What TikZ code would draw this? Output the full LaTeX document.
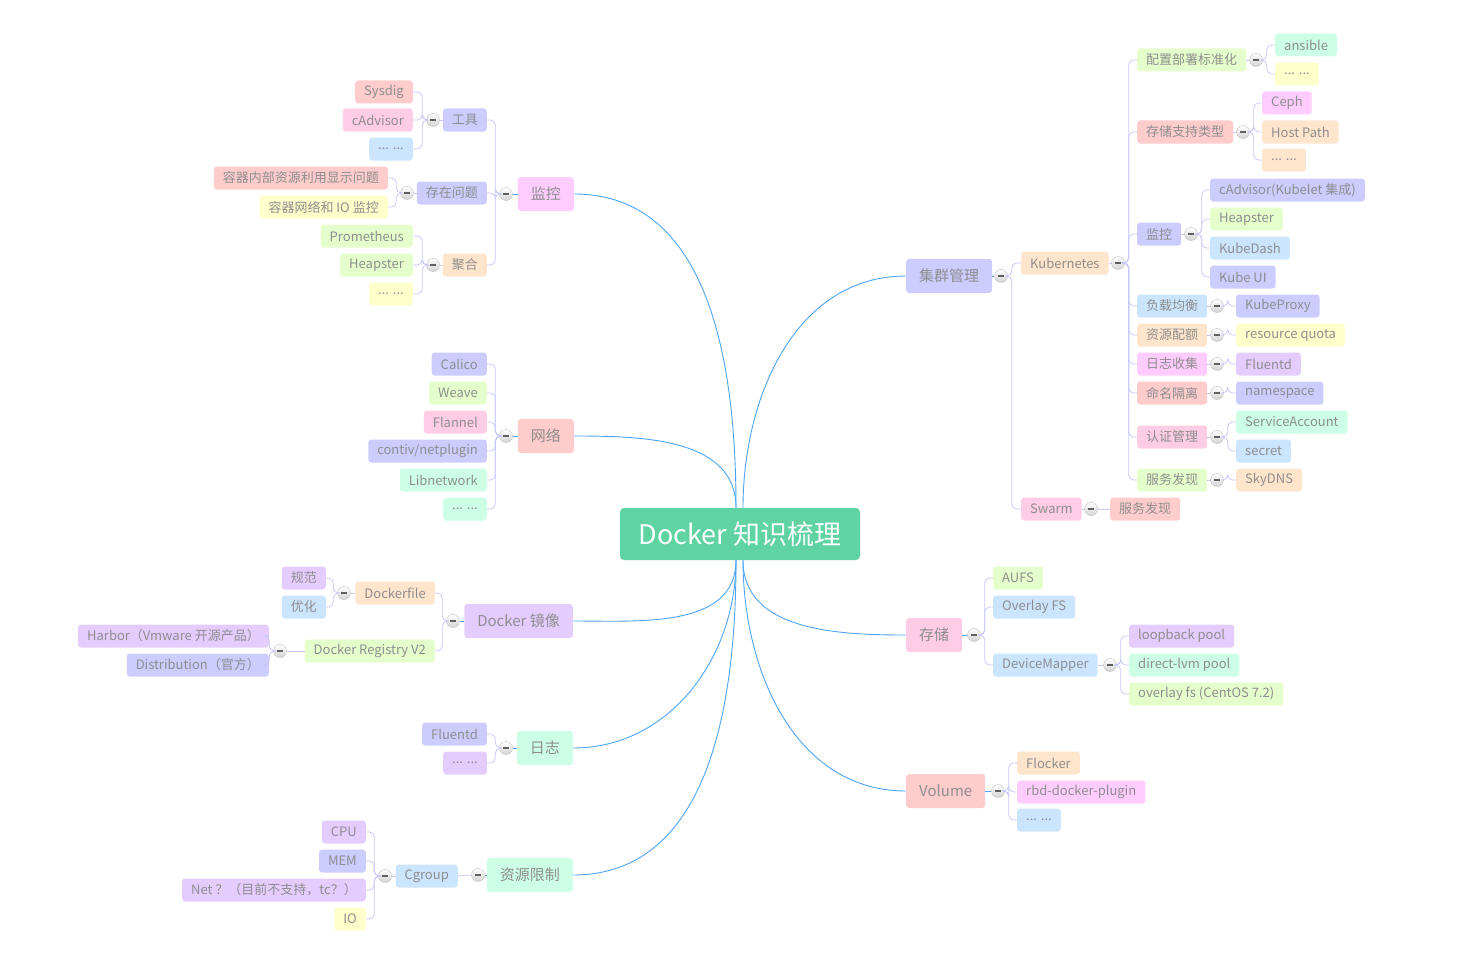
\documentclass[tikz,border=0pt]{standalone}
\usepackage{fontspec}
\setmainfont{Noto Sans CJK SC}
\definecolor{cRed}{HTML}{FFCCCC}
\definecolor{cPink}{HTML}{FFCCE5}
\definecolor{cMag}{HTML}{FFCCFF}
\definecolor{cBlue}{HTML}{CCE5FF}
\definecolor{cLav}{HTML}{CCCCFF}
\definecolor{cPur}{HTML}{E5CCFF}
\definecolor{cPeach}{HTML}{FFE5CC}
\definecolor{cLime}{HTML}{E5FFCC}
\definecolor{cYel}{HTML}{FFFFCC}
\definecolor{cMint}{HTML}{CCFFE5}
\definecolor{txt}{HTML}{8E8E8E}
\definecolor{brc}{HTML}{C8C8F8}
\definecolor{blu}{HTML}{4DA3F5}
\definecolor{rootc}{HTML}{5FD3A1}
\tikzset{
  leaf/.style={rectangle, rounded corners=3pt, minimum height=23pt, inner xsep=9pt, inner ysep=0pt, text=txt, font=\fontsize{13}{15}\selectfont},
  topic/.style={leaf, minimum height=34pt, inner xsep=13pt, font=\fontsize{15}{17}\selectfont},
  tog/.style={circle, draw=gray!50, top color=white, bottom color=gray!35, minimum size=13pt, inner sep=0pt,
    path picture={\draw[line width=1.5pt, gray!75!black] ([xshift=-3pt]path picture bounding box.center) -- ([xshift=3pt]path picture bounding box.center);}},
  brl/.style={draw=brc, line width=0.8pt, rounded corners=5pt},
  trunk/.style={draw=blu, line width=0.9pt},
}
\begin{document}
\begin{tikzpicture}[x=1pt, y=-1pt]
\useasboundingbox (0,0) rectangle (1463,963);
\node[fill=rootc, text=white, rounded corners=4pt, minimum width=240pt, minimum height=52pt, font=\fontsize{27}{30}\selectfont] (root) at (740,534) {Docker 知识梳理};
% main topics
\node[topic, fill=cMag, anchor=east] (mon) at (574,194) {监控};
\node[topic, fill=cRed, anchor=east] (net) at (574,436) {网络};
\node[topic, fill=cPur, anchor=east] (img) at (573,621) {Docker 镜像};
\node[topic, fill=cMint, anchor=east] (log) at (573,748) {日志};
\node[topic, fill=cMint, anchor=east] (lim) at (573,875) {资源限制};
\node[topic, fill=cLav, anchor=west] (clu) at (906,276) {集群管理};
\node[topic, fill=cPink, anchor=west] (sto) at (906,635) {存储};
\node[topic, fill=cRed, anchor=west] (vol) at (906,791) {Volume};
\foreach \m in {mon,net} \draw[trunk] ([xshift=-4pt]root.north) to[out=90,in=0] (\m.east);
\foreach \m in {img,log,lim} \draw[trunk] ([xshift=-4pt]root.south) to[out=-90,in=0] (\m.east);
\draw[trunk] ([xshift=3pt]root.north) to[out=90,in=180] (clu.west);
\foreach \m in {sto,vol} \draw[trunk] ([xshift=3pt]root.south) to[out=-90,in=180] (\m.west);
% toggles of the main topics
\foreach \m/\x/\y in {mon/506/194, net/506/436, img/453/621, log/506/748, lim/478/875} {
  \node[tog] (t\m) at (\x,\y) {};
  \draw[trunk] (\m.west) -- (t\m.east);
}
\foreach \m/\x/\y in {clu/1001/276, sto/974/635, vol/998/791} {
  \node[tog] (t\m) at (\x,\y) {};
  \draw[trunk] (\m.east) -- (t\m.west);
}
% 监控
\node[leaf, fill=cLav, anchor=east] (tool) at (487,120) {工具};
\node[leaf, fill=cLav, anchor=east] (issue) at (487,193) {存在问题};
\node[leaf, fill=cPeach, anchor=east] (agg) at (487,265) {聚合};
\foreach \n in {tool,issue,agg} \draw[brl] (tmon.west) -- ++(-4,0) |- (\n.east);
\foreach \m/\x/\y in {tool/433/120, issue/407/193, agg/433/265} {
  \node[tog] (t\m) at (\x,\y) {};
  \draw[brl] (\m.west) -- (t\m.east);
}
\foreach \n/\y/\c/\t in {sysd/92/cRed/Sysdig, cadv/120/cPink/cAdvisor, toolx/149/cBlue/{... ...}}
  \node[leaf, fill=\c, anchor=east] (\n) at (413,\y) {\t};
\foreach \n in {sysd,cadv,toolx} \draw[brl] (ttool.west) -- ++(-4,0) |- (\n.east);
\node[leaf, fill=cRed, anchor=east] (iss1) at (388,178) {容器内部资源利用显示问题};
\node[leaf, fill=cYel, anchor=east] (iss2) at (388,207) {容器网络和 IO 监控};
\foreach \n in {iss1,iss2} \draw[brl] (tissue.west) -- ++(-4,0) |- (\n.east);
\foreach \n/\y/\c/\t in {prom/236/cLime/Prometheus, heap/265/cLime/Heapster, aggx/294/cYel/{... ...}}
  \node[leaf, fill=\c, anchor=east] (\n) at (413,\y) {\t};
\foreach \n in {prom,heap,aggx} \draw[brl] (tagg.west) -- ++(-4,0) |- (\n.east);
% 网络
\foreach \n/\y/\c/\t in {cal/364/cLav/Calico, wea/393/cLime/Weave, fla/422/cPink/Flannel, con/451/cLav/{contiv/netplugin}, lib/480/cMint/Libnetwork, netx/509/cMint/{... ...}}
  \node[leaf, fill=\c, anchor=east] (\n) at (487,\y) {\t};
\foreach \n in {cal,wea,fla,con,lib,netx} \draw[brl] (tnet.west) -- ++(-4,0) |- (\n.east);
% Docker 镜像
\node[leaf, fill=cPeach, anchor=east] (dfile) at (435,593) {Dockerfile};
\node[leaf, fill=cLime, anchor=east] (reg) at (435,651) {Docker Registry V2};
\foreach \n in {dfile,reg} \draw[brl] (timg.west) -- ++(-4,0) |- (\n.east);
\foreach \m/\x/\y in {dfile/344/593, reg/280/651} {
  \node[tog] (t\m) at (\x,\y) {};
  \draw[brl] (\m.west) -- (t\m.east);
}
\node[leaf, fill=cPur, anchor=east] (norm) at (326,578) {规范};
\node[leaf, fill=cBlue, anchor=east] (opt) at (326,607) {优化};
\foreach \n in {norm,opt} \draw[brl] (tdfile.west) -- ++(-4,0) |- (\n.east);
\node[leaf, fill=cPur, anchor=east] (harb) at (269,636) {Harbor（Vmware 开源产品）};
\node[leaf, fill=cLav, anchor=east] (dist) at (269,665) {Distribution（官方）};
\foreach \n in {harb,dist} \draw[brl] (treg.west) -- ++(-4,0) |- (\n.east);
% 日志
\node[leaf, fill=cLav, anchor=east] (flu) at (487,734) {Fluentd};
\node[leaf, fill=cPur, anchor=east] (logx) at (487,763) {... ...};
\foreach \n in {flu,logx} \draw[brl] (tlog.west) -- ++(-4,0) |- (\n.east);
% 资源限制
\node[leaf, fill=cBlue, anchor=east] (cgr) at (458,876) {Cgroup};
\draw[brl] (tlim.west) -- (cgr.east);
\node[tog] (tcgr) at (385,876) {};
\draw[brl] (cgr.west) -- (tcgr.east);
\foreach \n/\y/\c/\t in {cpu/832/cPur/CPU, mem/861/cLav/MEM, nett/890/cPur/{Net ？（目前不支持，tc？）}, io/919/cYel/IO}
  \node[leaf, fill=\c, anchor=east] (\n) at (366,\y) {\t};
\foreach \n in {cpu,mem,nett,io} \draw[brl] (tcgr.west) -- ++(-4,0) |- (\n.west -| 366,0);
% 集群管理
\node[leaf, fill=cPeach, anchor=west] (k8s) at (1021,263) {Kubernetes};
\node[leaf, fill=cPink, anchor=west] (swarm) at (1021,509) {Swarm};
\foreach \n in {k8s,swarm} \draw[brl] (tclu.east) -- ++(4,0) |- (\n.west);
\foreach \m/\x/\y in {k8s/1118/263, swarm/1091/509} {
  \node[tog] (t\m) at (\x,\y) {};
  \draw[brl] (\m.east) -- (t\m.west);
}
\node[leaf, fill=cRed, anchor=west] (swsd) at (1110,509) {服务发现};
\draw[brl] (tswarm.east) -- (swsd.west);
\foreach \n/\y/\c/\t/\x in {k1/60/cLime/配置部署标准化/1256, k2/132/cRed/存储支持类型/1243, k3/234/cLav/监控/1191,
    k4/306/cBlue/负载均衡/1217, k5/335/cPeach/资源配额/1217, k6/364/cMag/日志收集/1217,
    k7/393/cRed/命名隔离/1217, k8/437/cPink/认证管理/1217, k9/480/cLime/服务发现/1217} {
  \node[leaf, fill=\c, anchor=west] (\n) at (1137,\y) {\t};
  \draw[brl] (tk8s.east) -- ++(4,0) |- (\n.west);
  \node[tog] (t\n) at (\x,\y) {};
  \draw[brl] (\n.east) -- (t\n.west);
}
\foreach \n/\y/\c/\t in {ans/45/cMint/ansible, k1x/74/cYel/{... ...}} {
  \node[leaf, fill=\c, anchor=west] (\n) at (1275,\y) {\t};
  \draw[brl] (tk1.east) -- ++(4,0) |- (\n.west);
}
\foreach \n/\y/\c/\t in {ceph/103/cMag/Ceph, hpath/132/cPeach/Host Path, k2x/160/cPeach/{... ...}} {
  \node[leaf, fill=\c, anchor=west] (\n) at (1262,\y) {\t};
  \draw[brl] (tk2.east) -- ++(4,0) |- (\n.west);
}
\foreach \n/\y/\c/\t in {kcadv/190/cLav/cAdvisor(Kubelet 集成), kheap/219/cLime/Heapster, kdash/248/cBlue/KubeDash, kui/277/cLav/Kube UI} {
  \node[leaf, fill=\c, anchor=west] (\n) at (1210,\y) {\t};
  \draw[brl] (tk3.east) -- ++(4,0) |- (\n.west);
}
\foreach \n/\p/\y/\c/\t in {kprox/k4/306/cLav/KubeProxy, rquota/k5/335/cYel/resource quota, kflu/k6/364/cPur/Fluentd,
    nspace/k7/393/cLav/namespace, sacc/k8/422/cMint/ServiceAccount, secr/k8/451/cBlue/secret, sdns/k9/480/cPeach/SkyDNS} {
  \node[leaf, fill=\c, anchor=west] (\n) at (1236,\y) {\t};
  \draw[brl] (t\p.east) -- ++(4,0) |- (\n.west);
}
% 存储
\foreach \n/\y/\c/\t in {aufs/578/cLime/AUFS, ovfs/607/cBlue/Overlay FS, dmap/665/cBlue/DeviceMapper} {
  \node[leaf, fill=\c, anchor=west] (\n) at (993,\y) {\t};
  \draw[brl] (tsto.east) -- ++(4,0) |- (\n.west);
}
\node[tog] (tdmap) at (1110,665) {};
\draw[brl] (dmap.east) -- (tdmap.west);
\foreach \n/\y/\c/\t in {loop/636/cPur/loopback pool, dlvm/665/cMint/direct-lvm pool, ovcent/694/cLime/overlay fs (CentOS 7.2)} {
  \node[leaf, fill=\c, anchor=west] (\n) at (1129,\y) {\t};
  \draw[brl] (tdmap.east) -- ++(4,0) |- (\n.west);
}
% Volume
\foreach \n/\y/\c/\t in {floc/763/cPeach/Flocker, rbd/792/cMag/rbd-docker-plugin, volx/820/cBlue/{... ...}} {
  \node[leaf, fill=\c, anchor=west] (\n) at (1017,\y) {\t};
  \draw[brl] (tvol.east) -- ++(4,0) |- (\n.west);
}
\end{tikzpicture}
\end{document}
